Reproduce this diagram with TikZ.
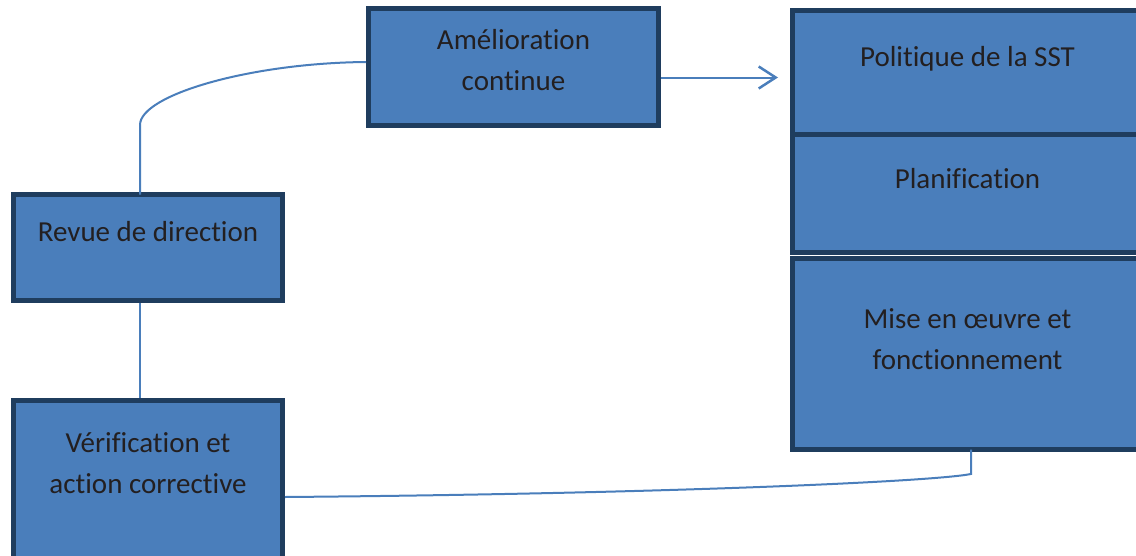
\documentclass[tikz,border=0pt]{standalone}
\usepackage{fontspec}
\setmainfont{Carlito}[Ligatures=NoCommon]
\usetikzlibrary{arrows.meta}
\definecolor{boxfill}{HTML}{4A7EBB}
\definecolor{boxedge}{HTML}{1F3D5E}
\definecolor{linkblue}{HTML}{4A7EBB}
\definecolor{ink}{HTML}{231F20}
\tikzset{
  stage/.style={draw=boxedge, fill=boxfill, line width=5pt, rectangle, inner sep=0pt},
  caption/.style={text=ink, font=\fontsize{29}{40.5}\selectfont, align=center, inner sep=0pt},
  link/.style={draw=linkblue, line width=2pt},
}
\begin{document}
\begin{tikzpicture}[x=1pt, y=-1pt]
\useasboundingbox (0,0) rectangle (1136,555);
\clip (0,0) rectangle (1136,555);

% process stages (border centre lines)
\node[stage, minimum width=290pt, minimum height=117pt] (amel) at (513.5,67) {};
\node[stage, minimum width=269pt, minimum height=106pt] (revue) at (148,247.5) {};
\node[stage, minimum width=269pt, minimum height=230pt] (verif) at (148,515.5) {};
\node[stage, minimum width=355pt, minimum height=124pt] (pol) at (970,72.5) {};
\node[stage, minimum width=355pt, minimum height=118pt] (plan) at (970,193.5) {};
\node[stage, minimum width=355pt, minimum height=191pt] (mise) at (970,354) {};

% stage titles (anchored on the baseline of the last line)
\node[caption, anchor=base] (amel-t) at (513.5,90) {Amélioration\\continue};
\node[caption, anchor=base] (revue-t) at (148,241.7) {Revue de direction};
\node[caption, anchor=base] (verif-t) at (148,493.3) {Vérification et\\action corrective};
\node[caption, anchor=base] (pol-t) at (967.5,66.7) {Politique de la SST};
\node[caption, anchor=base] (plan-t) at (967.5,188.3) {Planification};
\node[caption, anchor=base] (mise-t) at (967.5,369) {Mise en œuvre et\\fonctionnement};

% connectors
\coordinate (arrowtip) at (778,77.5);
\draw[link, -{Straight Barb[length=17pt, width=22pt, line width=2.5pt]}]
  (amel.east |- arrowtip) -- (arrowtip);
\draw[link] ([yshift=5pt]amel.west) .. controls (250,63) and (140,95) .. (140,125)
  -- (140,194.5);
\draw[link] (revue.south -| 140,0) -- (verif.north -| 140,0);
\draw[link] ([yshift=18.5pt]verif.east) .. controls (650,494) and (930,482) .. (971,474)
  -- (971,449.5);
\end{tikzpicture}
\end{document}
